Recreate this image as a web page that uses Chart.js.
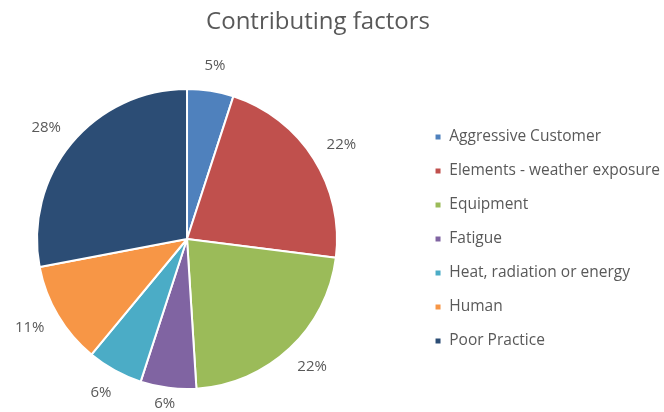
<!DOCTYPE html>
<html><head><meta charset="utf-8">
<script src="https://cdn.jsdelivr.net/npm/chart.js@4"></script>
<style>html,body{margin:0;padding:0;background:#fff;overflow:hidden;}</style>
</head><body>
<canvas id="c" width="664" height="412"></canvas>
<script>
const titleText = 'Contributing factors';
const categories = ['Aggressive Customer', 'Elements - weather exposure', 'Equipment', 'Fatigue', 'Heat, radiation or energy', 'Human', 'Poor Practice'];
const percentages = [5, 22, 22, 6, 6, 11, 28];
const sliceColors = ['#4F81BD', '#C0504D', '#9BBB59', '#8064A2', '#4BACC6', '#F79646', '#2C4D75'];

const FONT = '"Open Sans", "DejaVu Sans", sans-serif';
const TEXT_COLOR = '#595959';
const PIE_LEFT_EXTEND = 42;   // widen the plot area to the left so the pie sits left of centre

const shiftPlotArea = {
  id: 'shiftPlotArea',
  afterLayout(chart) {
    const ca = chart.chartArea;
    ca.left -= PIE_LEFT_EXTEND;
    ca.width = ca.right - ca.left;
  }
};

const outsideLabels = {
  id: 'outsideLabels',
  afterDatasetsDraw(chart) {
    const ctx = chart.ctx;
    const meta = chart.getDatasetMeta(0);
    ctx.save();
    ctx.font = '15px ' + FONT;
    ctx.fillStyle = TEXT_COLOR;
    ctx.textAlign = 'center';
    ctx.textBaseline = 'middle';
    meta.data.forEach((arc, i) => {
      const p = arc.getProps(['x', 'y', 'startAngle', 'endAngle', 'outerRadius'], true);
      const a = (p.startAngle + p.endAngle) / 2;
      const txt = chart.data.datasets[0].data[i] + '%';
      const w = ctx.measureText(txt).width, h = 14;
      const R = p.outerRadius + 18;
      const cx = p.x + Math.cos(a) * R + Math.cos(a) * w / 2;
      let cy = p.y + Math.sin(a) * R + Math.sin(a) * h / 2;
      cy = Math.max(h / 2 + 1, Math.min(chart.height - h / 2 - 1, cy));
      ctx.fillText(txt, cx, cy);
    });
    ctx.restore();
  }
};

new Chart(document.getElementById('c'), {
  type: 'pie',
  data: {
    labels: categories,
    datasets: [{
      data: percentages,
      backgroundColor: sliceColors,
      borderColor: '#ffffff',
      borderWidth: 2
    }]
  },
  options: {
    responsive: false,
    animation: false,
    devicePixelRatio: 1,
    layout: { padding: { left: -34, right: -6, top: 0, bottom: 22 } },
    plugins: {
      title: {
        display: true,
        text: titleText,
        color: TEXT_COLOR,
        font: { family: FONT, size: 24, weight: 'normal' },
        padding: { top: 8, bottom: 51.2 }
      },
      legend: {
        position: 'right',
        fullSize: false,
        labels: {
          boxWidth: 7,
          boxHeight: 7,
          padding: 18.5,
          color: TEXT_COLOR,
          font: { family: FONT, size: 15.5 }
        }
      },
      tooltip: { enabled: false }
    }
  },
  plugins: [shiftPlotArea, outsideLabels]
});
</script>
</body></html>
